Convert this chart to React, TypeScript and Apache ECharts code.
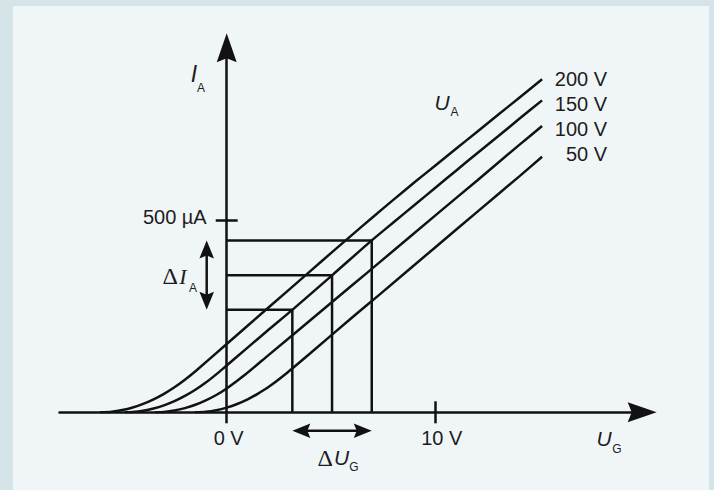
import React, { useEffect, useRef } from "react";
import * as echarts from "echarts";

// ---------------- data ----------------
const curveLabels = ["200 V", "150 V", "100 V", "50 V"];

// U_G [V], I_A [µA]
const curve200V: number[][] = [
  [-6.06, 0], [-5.5, 1.6], [-5, 5.8], [-4.5, 12.5], [-4, 21.8], [-3.5, 33.7],
  [-3, 48.1], [-2.5, 65.1], [-2, 84.7], [-1.44, 109.7], [0, 178], [2, 273],
  [4, 368], [5, 415.5], [6, 462.5], [7, 509], [8, 555], [9, 600], [10, 644],
  [11, 688], [12, 732], [13, 776], [14, 820], [15.09, 868],
];
const curve150V: number[][] = [
  [-4.87, 0], [-4.5, 0.7], [-4, 3.9], [-3.5, 9.7], [-3, 18.1], [-2.5, 29],
  [-2, 42.6], [-1.5, 58.7], [-1, 77.4], [-0.37, 104.7], [0, 122], [1, 168.5],
  [2, 215], [3.14, 267], [5.04, 357], [6.94, 448], [8, 496], [9, 541],
  [10, 586], [11, 631], [12, 676], [13, 720], [14, 765], [15.09, 813],
];
const curve100V: number[][] = [
  [-3.43, 0], [-3, 1], [-2.5, 4.6], [-2, 10.8], [-1.5, 19.6], [-1, 31.1],
  [-0.5, 45], [0, 62], [0.89, 98.3], [2, 149], [4, 240], [6, 331], [7.34, 392],
  [10, 514], [12, 605], [14, 697], [15.09, 746],
];
const curve50V: number[][] = [
  [-1.52, 0], [-1, 1.4], [-0.5, 5.5], [0, 12.3], [0.5, 21.7], [1, 33.7],
  [1.5, 48.7], [2, 65.8], [2.82, 100], [4, 154], [6, 247], [7.34, 308],
  [10, 431], [12, 523], [14, 615], [15.09, 666],
];

// operating points on the 150 V curve
const operatingUG = [3.14, 5.04, 6.94];
const operatingIA = [267, 357, 448];

const xTickValues = [0, 10];
const xTickLabels = ["0 V", "10 V"];
const yTickValues = [500];
const yTickLabels = ["500 µA"];

const X_MIN = -8;
const X_MAX = 19.88;
const Y_MIN = 0;
const Y_MAX = 950;

// ---------------- styles ----------------
const INK = "#121212";
const TEXT = "#1f1c1d";
const LW = 2.5;
const SANS = "'Liberation Sans', Arial, Helvetica, sans-serif";
const SERIF = "'Liberation Serif', 'Times New Roman', serif";
const AXIS_ARROW = "path://M10 0 L20 29 L10 25 L0 29 Z";

function arrowHead(tip: number[], dir: number[]) {
  const len = 18, half = 7.3, notch = 3;
  const [dx, dy] = dir;
  const px = -dy, py = dx;
  const bx = tip[0] - dx * len, by = tip[1] - dy * len;
  return {
    type: "polygon",
    shape: {
      points: [
        [tip[0], tip[1]],
        [bx + px * half, by + py * half],
        [tip[0] - dx * (len - notch), tip[1] - dy * (len - notch)],
        [bx - px * half, by - py * half],
      ],
    },
    style: { fill: INK },
  };
}

function doubleArrow(a: number[], b: number[]) {
  const vx = b[0] - a[0], vy = b[1] - a[1];
  const l = Math.hypot(vx, vy);
  const d = [vx / l, vy / l];
  return [
    {
      type: "line",
      shape: {
        x1: a[0] + d[0] * 10, y1: a[1] + d[1] * 10,
        x2: b[0] - d[0] * 10, y2: b[1] - d[1] * 10,
      },
      style: { stroke: INK, lineWidth: LW },
    },
    arrowHead(a, [-d[0], -d[1]]),
    arrowHead(b, d),
  ];
}

const endLabelOffsets = [[0, 0], [0, 3.5], [0, 3], [0, -3]];

function txt(id: string, x: number, y: number, text: string, size: number, opts: any = {}) {
  return {
    type: "text",
    id,
    x,
    y,
    silent: true,
    style: {
      text,
      fontSize: size,
      fontFamily: opts.family || SANS,
      fontStyle: opts.italic ? "italic" : "normal",
      fill: TEXT,
      align: opts.align || "center",
      verticalAlign: "middle",
    },
  };
}

export default function App() {
  const ref = useRef<HTMLDivElement>(null);

  useEffect(() => {
    if (!ref.current) return;
    const chart = echarts.init(ref.current, null, { renderer: "svg" });
    const curves = [curve200V, curve150V, curve100V, curve50V];

    const lineSeries = curves.map((data, k) => ({
      type: "line",
      name: curveLabels[k],
      data,
      xAxisIndex: 0,
      yAxisIndex: 0,
      showSymbol: false,
      smooth: 0.25,
      silent: true,
      z: 3,
      lineStyle: { color: INK, width: LW },
      endLabel: {
        show: true,
        formatter: curveLabels[k],
        align: "right",
        distance: 65,
        offset: endLabelOffsets[k],
        fontSize: 20,
        fontFamily: SANS,
        color: TEXT,
      },
    }));

    const option: any = {
      animation: false,
      backgroundColor: "transparent",
      grid: {
        left: 59.5,
        right: 71.8,
        top: 47.8,
        bottom: 77.7,
        containLabel: false,
        outerBoundsMode: "none",
      },
      xAxis: [
        {
          type: "value",
          min: X_MIN,
          max: X_MAX,
          position: "bottom",
          axisLine: {
            show: true,
            onZero: false,
            symbol: ["none", AXIS_ARROW],
            symbolSize: [20, 29],
            lineStyle: { color: INK, width: LW },
          },
          axisTick: {
            show: true,
            inside: false,
            length: 11,
            customValues: xTickValues,
            lineStyle: { color: INK, width: LW },
          },
          axisLabel: {
            show: true,
            customValues: xTickValues,
            margin: 16,
            formatter: (v: number) => {
              const i = xTickValues.indexOf(v);
              return i < 0 ? "" : `{l${i}|${xTickLabels[i]}}`;
            },
            rich: {
              l0: { fontSize: 20, fontFamily: SANS, color: TEXT, padding: [0, 0, 0, 4] },
              l1: { fontSize: 20, fontFamily: SANS, color: TEXT, padding: [0, 0, 0, 12] },
            },
          },
          splitLine: { show: false },
        },
        {
          type: "value",
          min: X_MIN,
          max: X_MAX,
          position: "bottom",
          axisLine: { show: false, onZero: false },
          axisTick: {
            show: true,
            inside: true,
            length: 11,
            customValues: [xTickValues[1]],
            lineStyle: { color: INK, width: LW },
          },
          axisLabel: { show: false },
          splitLine: { show: false },
        },
      ],
      yAxis: [
        {
          type: "value",
          min: Y_MIN,
          max: Y_MAX,
          position: "left",
          axisLine: {
            show: true,
            onZero: true,
            onZeroAxisIndex: 0,
            symbol: ["none", AXIS_ARROW],
            symbolSize: [20, 29],
            lineStyle: { color: INK, width: LW },
          },
          axisTick: {
            show: true,
            inside: false,
            length: 11,
            customValues: yTickValues,
            lineStyle: { color: INK, width: LW },
          },
          axisLabel: { show: false },
          splitLine: { show: false },
        },
        {
          type: "value",
          min: Y_MIN,
          max: Y_MAX,
          position: "left",
          axisLine: { show: false, onZero: true, onZeroAxisIndex: 0 },
          axisTick: {
            show: true,
            inside: true,
            length: 11,
            customValues: yTickValues,
            lineStyle: { color: INK, width: LW },
          },
          axisLabel: { show: false },
          splitLine: { show: false },
        },
      ],
      series: [
        ...lineSeries,
        {
          type: "custom",
          name: "operating points",
          coordinateSystem: "cartesian2d",
          xAxisIndex: 0,
          yAxisIndex: 0,
          clip: false,
          silent: true,
          z: 2,
          data: operatingUG.map((u, i) => [u, operatingIA[i]]),
          renderItem: (params: any, api: any) => {
            const u = api.value(0);
            const ia = api.value(1);
            const a = api.coord([0, ia]);
            const c = api.coord([u, ia]);
            const b = api.coord([u, 0]);
            return {
              type: "polyline",
              shape: { points: [a, c, b] },
              style: { stroke: INK, lineWidth: LW, fill: "none", lineJoin: "miter" },
            };
          },
        },
        {
          type: "custom",
          name: "delta arrows",
          coordinateSystem: "cartesian2d",
          xAxisIndex: 0,
          yAxisIndex: 0,
          clip: false,
          silent: true,
          z: 4,
          data: [[0, 0]],
          renderItem: (params: any, api: any) => {
            const origin = api.coord([0, 0]);
            const top = api.coord([0, Math.max(...operatingIA)]);
            const bot = api.coord([0, Math.min(...operatingIA)]);
            const left = api.coord([Math.min(...operatingUG), 0]);
            const right = api.coord([Math.max(...operatingUG), 0]);
            const ax = origin[0] - 20;
            const ay = origin[1] + 18.5;
            return {
              type: "group",
              children: [
                ...doubleArrow([ax, top[1]], [ax, bot[1]]),
                ...doubleArrow([left[0], ay], [right[0], ay]),
              ],
            };
          },
        },
      ],
      graphic: [
        // I_A
        txt("iA1", 194, 74, "I", 23, { italic: true }),
        txt("iA2", 201, 88, "A", 12),
        // U_A
        txt("uA1", 442, 102, "U", 21, { italic: true }),
        txt("uA2", 454.5, 112, "A", 12),
        // U_G
        txt("uG1", 604, 438.5, "U", 21, { italic: true }),
        txt("uG2", 617, 448.5, "G", 12),
        // ΔI_A
        txt("dI0", 178, 276, "Δ", 24, { family: SERIF, align: "right" }),
        txt("dI1", 183, 276, "I", 22, { family: SERIF, italic: true }),
        txt("dI2", 193, 288, "A", 12),
        // ΔU_G
        txt("dU0", 333, 457.5, "Δ", 24, { family: SERIF, align: "right" }),
        txt("dU1", 341.5, 457.5, "U", 21, { italic: true }),
        txt("dU2", 354, 467, "G", 12),
      ],
    };

    chart.setOption(option);

    // y tick label placed next to the y axis through the chart's own scale
    const p = chart.convertToPixel({ xAxisIndex: 0, yAxisIndex: 0 }, [0, yTickValues[0]]) as number[];
    chart.setOption({
      graphic: [txt("yTick0", p[0] - 20, p[1] - 3.5, yTickLabels[0], 20, { align: "right" })],
    });

    return () => chart.dispose();
  }, []);

  return (
    <div style={{ position: "absolute", left: 0, top: 0, width: 714, height: 490, background: "#d4e4e9", overflow: "hidden" }}>
      <div style={{ position: "absolute", left: 13, top: 6, width: 696, height: 484, background: "#f0f6f7" }} />
      <div ref={ref} style={{ position: "absolute", left: 0, top: 0, width: 714, height: 490 }} />
    </div>
  );
}
